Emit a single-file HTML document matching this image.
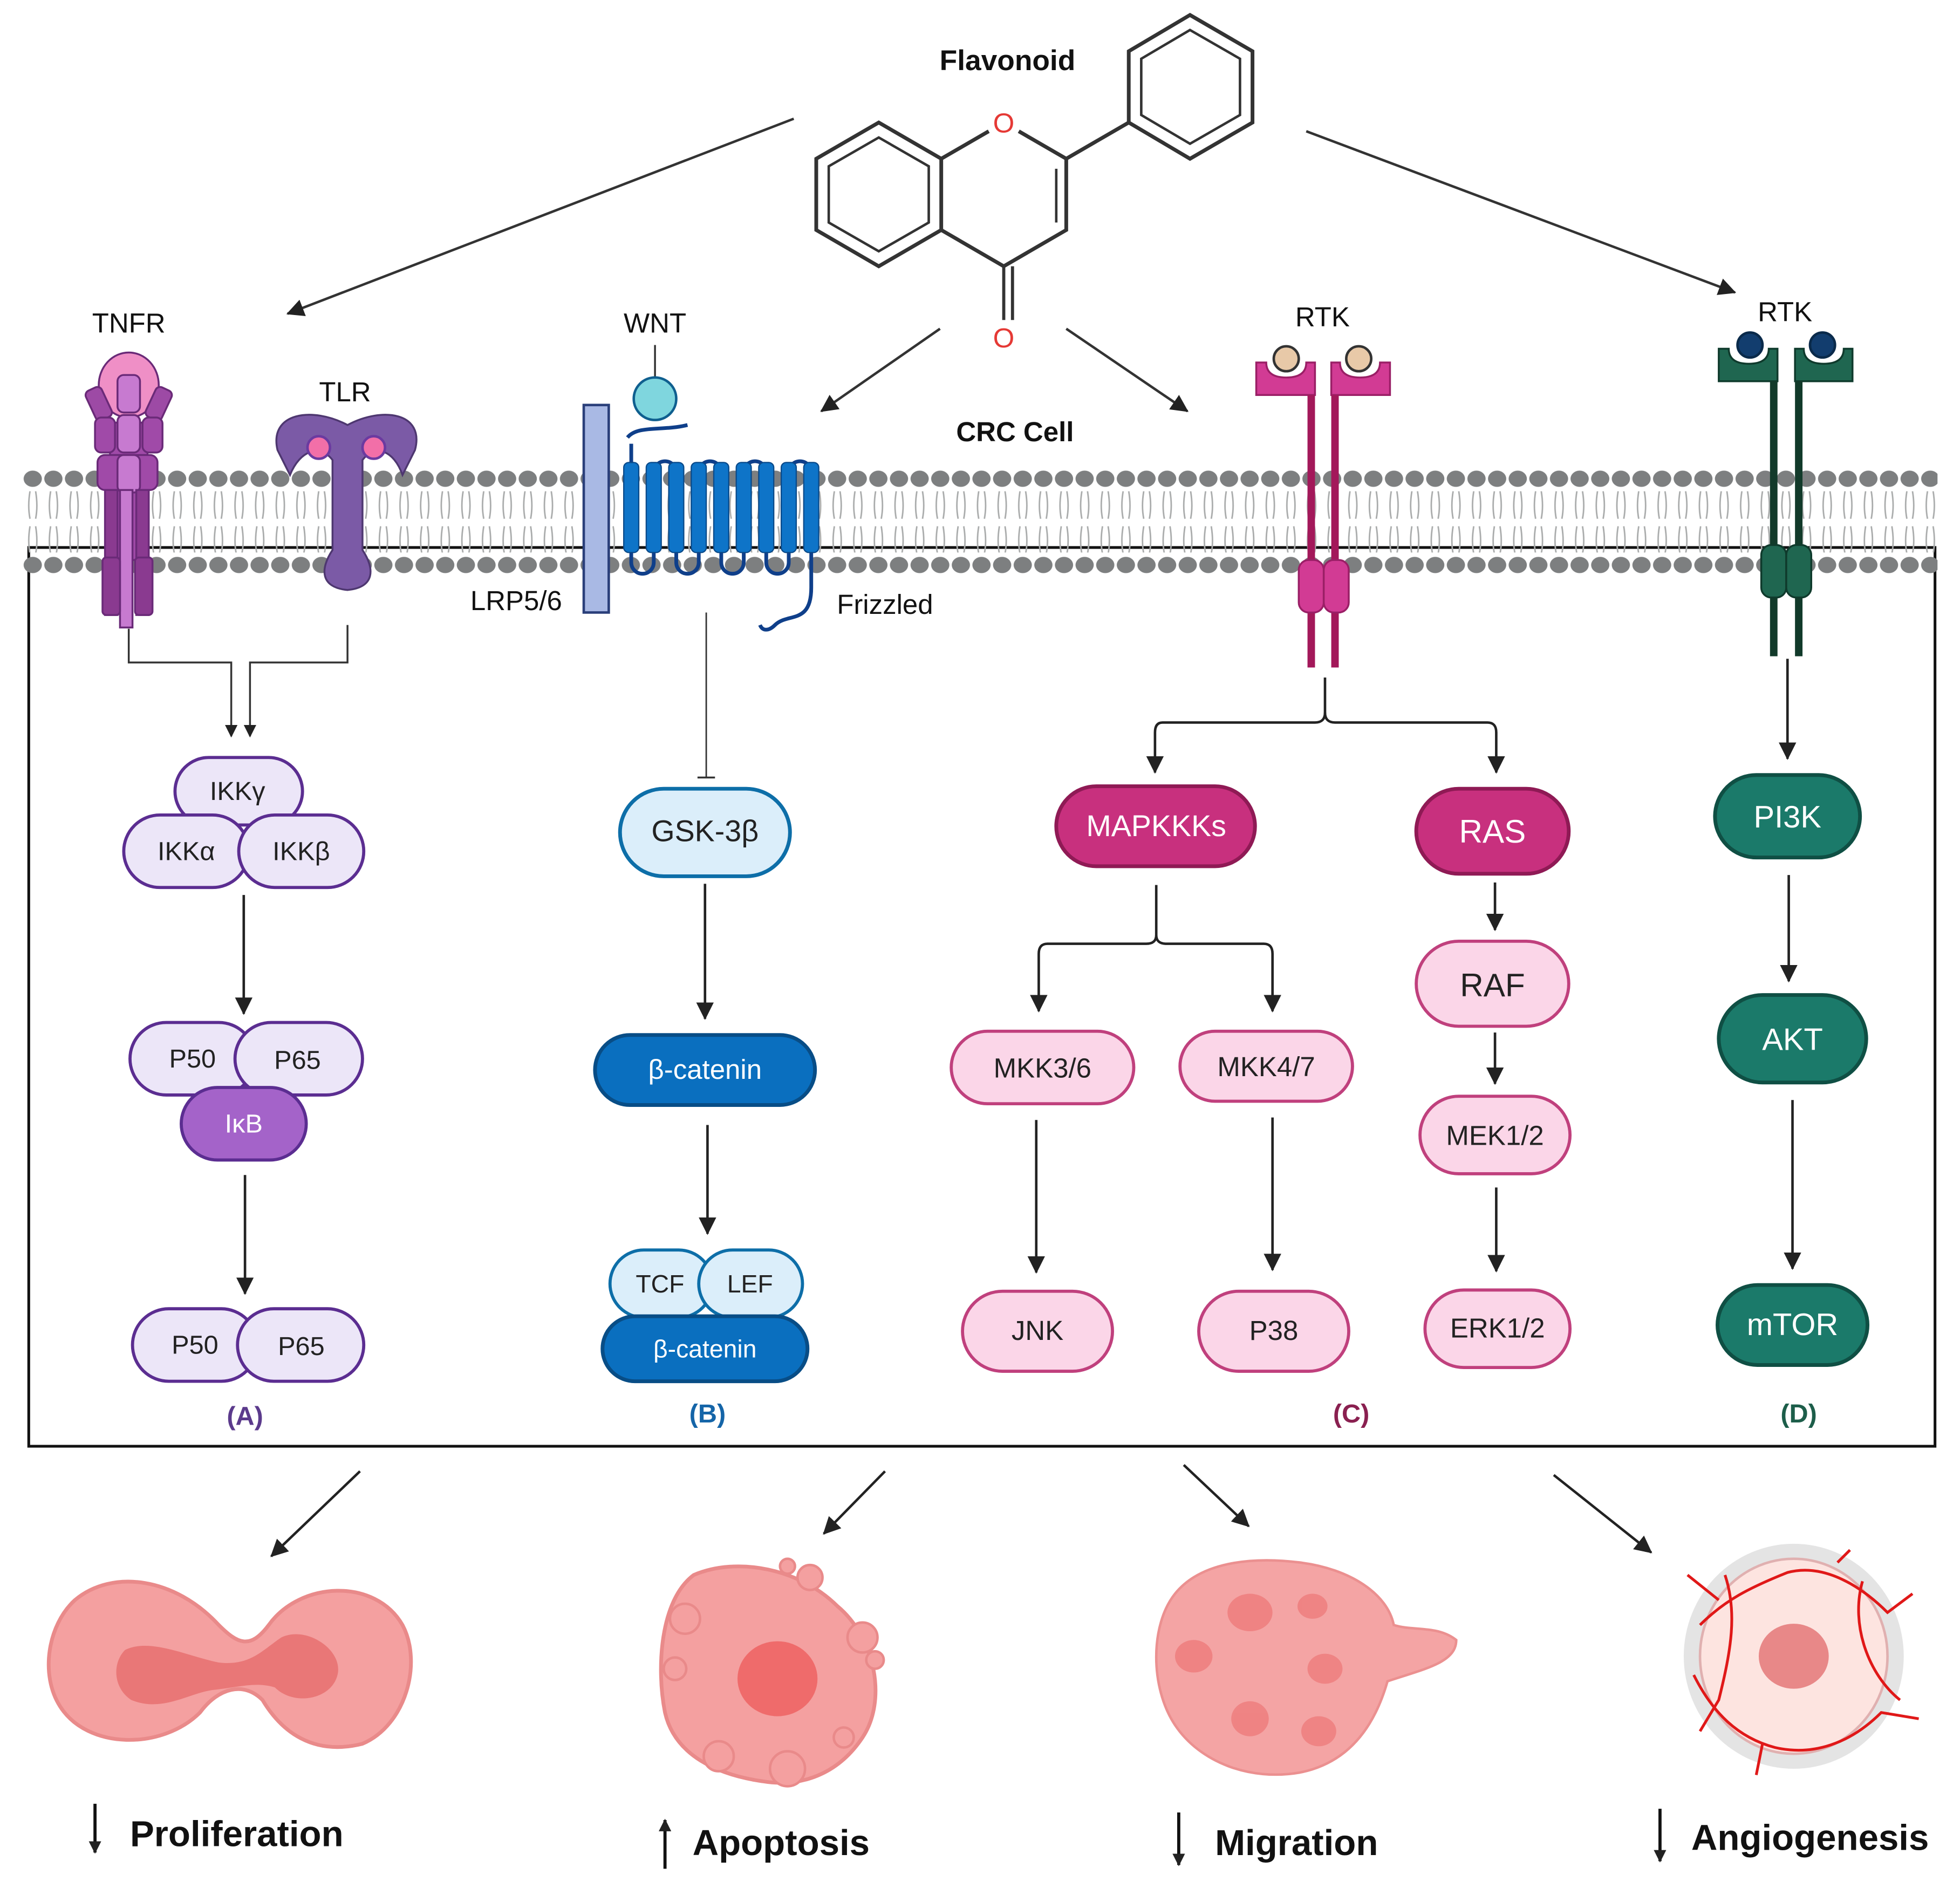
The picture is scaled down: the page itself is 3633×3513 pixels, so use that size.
<!DOCTYPE html>
<html><head><meta charset="utf-8"><style>
html,body{margin:0;padding:0;background:#fff}
svg{display:block}
text{font-family:"Liberation Sans",Arial,sans-serif}
</style></head><body>
<svg width="3633" height="3513" viewBox="0 0 1568 1516" preserveAspectRatio="none" xmlns="http://www.w3.org/2000/svg">
<defs>
<marker id="ar" markerWidth="10" markerHeight="10" refX="9" refY="5" orient="auto" markerUnits="userSpaceOnUse"><path d="M0,0 L10,5 L0,10 z" fill="#222"/></marker>
<marker id="arL" markerWidth="14" markerHeight="14" refX="13" refY="7" orient="auto" markerUnits="userSpaceOnUse"><path d="M0,0 L14,7 L0,14 z" fill="#222"/></marker>
<pattern id="heads1" x="18" y="373" width="16.5" height="20" patternUnits="userSpaceOnUse"><ellipse cx="8.2" cy="10" rx="7.3" ry="6.5" fill="#7d7f80"/></pattern>
<pattern id="heads2" x="18" y="442" width="16.5" height="20" patternUnits="userSpaceOnUse"><ellipse cx="8.2" cy="10" rx="7.3" ry="6.5" fill="#7d7f80"/></pattern>
<pattern id="tails" x="18" y="393" width="16.5" height="50" patternUnits="userSpaceOnUse"><path d="M6,0 q-2,12 0,22 M10.5,0 q2,12 0,22 M6,28 q-2,12 0,22 M10.5,28 q2,12 0,22" stroke="#a9abab" stroke-width="1.2" fill="none"/></pattern>
</defs>

<rect x="23" y="438" width="1525" height="719" fill="none" stroke="#111" stroke-width="2.2"/>

<rect x="18" y="373" width="1532" height="20" fill="url(#heads1)"/>
<rect x="18" y="393" width="1532" height="49" fill="url(#tails)"/>
<rect x="18" y="442" width="1532" height="20" fill="url(#heads2)"/>

<text x="806" y="56" font-size="23" font-weight="bold" text-anchor="middle" fill="#111">Flavonoid</text>
<g stroke="#333" stroke-width="3" fill="none">
<polygon points="703,98 753,127 753,184 703,213 653,184 653,127"/>
<polygon points="703,110 743,133 743,178 703,201 663,178 663,133" stroke-width="2"/>
<path d="M753,127 L791,105 M815,105 L853,127 L853,184 L803,213 L753,184"/>
<path d="M845,135 L845,178" stroke-width="2"/>
<path d="M803,213 L803,256 M810,213 L810,256" stroke-width="2.5"/>
<path d="M853,127 L903,98"/>
<polygon points="952,12 1002,41 1002,98 952,127 903,98 903,41"/>
<polygon points="952,24 992,47 992,92 952,115 913,92 913,47" stroke-width="2"/>
</g>
<text x="803" y="106" font-size="22" text-anchor="middle" fill="#e53935">O</text>
<text x="803" y="278" font-size="22" text-anchor="middle" fill="#e53935">O</text>

<g stroke="#333" stroke-width="2" fill="none">
<line x1="635" y1="95" x2="230" y2="251" marker-end="url(#arL)"/>
<line x1="1045" y1="105" x2="1388" y2="234" marker-end="url(#arL)"/>
<line x1="752" y1="263" x2="657" y2="329" marker-end="url(#arL)"/>
<line x1="853" y1="263" x2="950" y2="329" marker-end="url(#arL)"/>
</g>
<text x="812" y="353" font-size="22" font-weight="bold" text-anchor="middle" fill="#111">CRC Cell</text>

<text x="103" y="266" font-size="22" text-anchor="middle" fill="#111">TNFR</text>
<text x="276" y="321" font-size="22" text-anchor="middle" fill="#111">TLR</text>
<g stroke="#6a2a78" stroke-width="1.5">
<ellipse cx="103" cy="308" rx="24" ry="26" fill="#ef8fc6"/>
<rect x="88" y="338" width="30" height="110" rx="6" fill="#a04aa8"/>
<rect x="72" y="310" width="14" height="26" rx="4" fill="#9d4aa5" transform="rotate(-25 79 323)"/>
<rect x="120" y="310" width="14" height="26" rx="4" fill="#9d4aa5" transform="rotate(25 127 323)"/>
<rect x="76" y="334" width="16" height="28" rx="5" fill="#a04aa8"/>
<rect x="114" y="334" width="16" height="28" rx="5" fill="#a04aa8"/>
<rect x="78" y="364" width="48" height="28" rx="6" fill="#a04aa8"/>
<rect x="94" y="300" width="18" height="30" rx="5" fill="#c77ad0"/>
<rect x="94" y="332" width="18" height="30" rx="5" fill="#c77ad0"/>
<rect x="94" y="364" width="18" height="30" rx="5" fill="#c77ad0"/>
<rect x="84" y="392" width="10" height="100" fill="#8a3a90"/>
<rect x="109" y="392" width="10" height="100" fill="#8a3a90"/>
<rect x="96" y="392" width="10" height="110" fill="#c77ad0"/>
<rect x="82" y="446" width="14" height="46" rx="3" fill="#8a3a90"/>
<rect x="108" y="446" width="14" height="46" rx="3" fill="#8a3a90"/>
</g>
<g stroke="#4e3770" stroke-width="1.5" fill="#7b5aa6">
<path d="M222,360 C215,330 250,325 278,340 C306,325 340,330 332,360 L322,380 C315,360 300,355 290,368 L290,440 C300,455 300,470 278,472 C256,470 256,455 266,440 L266,368 C256,355 240,360 232,380 Z"/>
</g>
<circle cx="255" cy="358" r="9" fill="#f26fa8" stroke="#6b3aa0" stroke-width="2"/>
<circle cx="299" cy="358" r="9" fill="#f26fa8" stroke="#6b3aa0" stroke-width="2"/>

<g stroke="#333" stroke-width="1.5" fill="none">
<path d="M103,503 L103,530 L185,530 L185,589" marker-end="url(#ar)"/>
<path d="M278,500 L278,530 L200,530 L200,589" marker-end="url(#ar)"/>
</g>

<g stroke="#5b2d91" stroke-width="2.5" fill="#ece6f8">
<rect x="140" y="606" width="102" height="54" rx="27"/>
<rect x="99" y="652" width="100" height="58" rx="29"/>
<rect x="191" y="652" width="100" height="58" rx="29"/>
</g>
<g font-size="21" text-anchor="middle" fill="#222">
<text x="190" y="640">IKKγ</text><text x="149" y="688">IKKα</text><text x="241" y="688">IKKβ</text>
</g>
<line x1="195" y1="716" x2="195" y2="811" stroke="#222" stroke-width="2" marker-end="url(#arL)"/>
<g stroke="#5b2d91" stroke-width="2.5">
<rect x="104" y="818" width="100" height="58" rx="29" fill="#ece6f8"/>
<rect x="188" y="818" width="102" height="58" rx="29" fill="#ece6f8"/>
<rect x="145" y="870" width="100" height="58" rx="29" fill="#a463c9"/>
</g>
<g font-size="21" text-anchor="middle" fill="#222">
<text x="154" y="854">P50</text><text x="238" y="855">P65</text><text x="195" y="906" fill="#fff">IκB</text>
</g>
<line x1="196" y1="940" x2="196" y2="1035" stroke="#222" stroke-width="2" marker-end="url(#arL)"/>
<g stroke="#5b2d91" stroke-width="2.5" fill="#ece6f8">
<rect x="106" y="1047" width="100" height="58" rx="29"/>
<rect x="190" y="1047" width="101" height="58" rx="29"/>
</g>
<g font-size="21" text-anchor="middle" fill="#222"><text x="156" y="1083">P50</text><text x="241" y="1084">P65</text></g>
<text x="196" y="1140" font-size="21" font-weight="bold" text-anchor="middle" fill="#5b3a8c">(A)</text>

<text x="524" y="266" font-size="22" text-anchor="middle" fill="#111">WNT</text>
<line x1="524" y1="276" x2="524" y2="302" stroke="#333" stroke-width="1.5"/>
<circle cx="524" cy="319" r="17" fill="#7fd6de" stroke="#0f5f8f" stroke-width="2"/>
<rect x="467" y="324" width="20" height="166" fill="#a9b9e4" stroke="#2a3f7a" stroke-width="2"/>
<text x="413" y="488" font-size="22" text-anchor="middle" fill="#111">LRP5/6</text>
<g fill="none" stroke="#0f3f8a" stroke-width="3">
<path d="M502,350 C510,340 530,345 550,340"/>
<path d="M505,355 L505,450 A9,9 0 0 0 523,450 L523,378 A9,9 0 0 1 541,378 L541,450 A9,9 0 0 0 559,450 L559,378 A9,9 0 0 1 577,378 L577,450 A9,9 0 0 0 595,450 L595,378 A9,9 0 0 1 613,378 L613,450 A9,9 0 0 0 631,450 L631,378 A9,9 0 0 1 649,378 L649,470 C649,500 630,490 620,500 C615,505 610,505 608,500"/>
</g>
<g fill="#0e74c8" stroke="#0a4a8a" stroke-width="1">
<rect x="499" y="370" width="12" height="72" rx="4"/><rect x="517" y="370" width="12" height="72" rx="4"/>
<rect x="535" y="370" width="12" height="72" rx="4"/><rect x="553" y="370" width="12" height="72" rx="4"/>
<rect x="571" y="370" width="12" height="72" rx="4"/><rect x="589" y="370" width="12" height="72" rx="4"/>
<rect x="607" y="370" width="12" height="72" rx="4"/><rect x="625" y="370" width="12" height="72" rx="4"/>
<rect x="643" y="370" width="12" height="72" rx="4"/>
</g>
<text x="708" y="491" font-size="22" text-anchor="middle" fill="#111">Frizzled</text>
<line x1="565" y1="490" x2="565" y2="622" stroke="#333" stroke-width="1.2"/>
<line x1="558" y1="622" x2="572" y2="622" stroke="#333" stroke-width="1.5"/>
<rect x="496" y="631" width="136" height="70" rx="35" fill="#dbeefa" stroke="#0d6ea8" stroke-width="3"/>
<text x="564" y="673" font-size="24" text-anchor="middle" fill="#222">GSK-3β</text>
<line x1="564" y1="707" x2="564" y2="815" stroke="#222" stroke-width="2" marker-end="url(#arL)"/>
<rect x="476" y="828" width="176" height="56" rx="28" fill="#0a6fbf" stroke="#084d86" stroke-width="3"/>
<text x="564" y="863" font-size="22" text-anchor="middle" fill="#fff">β-catenin</text>
<line x1="566" y1="900" x2="566" y2="987" stroke="#222" stroke-width="2" marker-end="url(#arL)"/>
<g stroke="#0d6ea8" stroke-width="2.5" fill="#dbeefa">
<rect x="488" y="1000" width="82" height="54" rx="27"/>
<rect x="559" y="1000" width="83" height="54" rx="27"/>
</g>
<rect x="482" y="1053" width="164" height="52" rx="26" fill="#0a6fbf" stroke="#084d86" stroke-width="3"/>
<g font-size="20" text-anchor="middle"><text x="528" y="1034" fill="#222">TCF</text><text x="600" y="1034" fill="#222">LEF</text><text x="564" y="1086" fill="#fff">β-catenin</text></g>
<text x="566" y="1138" font-size="21" font-weight="bold" text-anchor="middle" fill="#1565a8">(B)</text>

<text x="1058" y="261" font-size="22" text-anchor="middle" fill="#111">RTK</text>
<g>
<circle cx="1029" cy="287" r="10" fill="#e8c9a8" stroke="#333" stroke-width="2"/>
<circle cx="1087" cy="287" r="10" fill="#e8c9a8" stroke="#333" stroke-width="2"/>
<path d="M1005,290 L1013,290 Q1013,302 1029,302 Q1045,302 1045,290 L1052,290 L1052,316 L1005,316 Z" fill="#d23b94" stroke="#9a1f66" stroke-width="1.5"/>
<path d="M1065,290 L1072,290 Q1072,302 1088,302 Q1104,302 1104,290 L1112,290 L1112,316 L1065,316 Z" fill="#d23b94" stroke="#9a1f66" stroke-width="1.5"/>
<rect x="1046" y="316" width="6" height="218" fill="#a3185a"/>
<rect x="1065" y="316" width="6" height="218" fill="#a3185a"/>
<rect x="1039" y="448" width="20" height="42" rx="8" fill="#d23b94" stroke="#9a1f66" stroke-width="1.5"/>
<rect x="1059" y="448" width="20" height="42" rx="8" fill="#d23b94" stroke="#9a1f66" stroke-width="1.5"/>
</g>
<g stroke="#222" stroke-width="2" fill="none">
<path d="M1060,542 L1060,570 Q1060,578 1052,578 L930,578 Q924,578 924,586 L924,618" marker-end="url(#arL)"/>
<path d="M1060,570 Q1060,578 1068,578 L1190,578 Q1197,578 1197,586 L1197,618" marker-end="url(#arL)"/>
</g>
<rect x="845" y="629" width="159" height="64" rx="32" fill="#c8307e" stroke="#8f1a55" stroke-width="3"/>
<text x="925" y="669" font-size="24" text-anchor="middle" fill="#fff">MAPKKKs</text>
<rect x="1133" y="631" width="122" height="68" rx="34" fill="#c8307e" stroke="#8f1a55" stroke-width="3"/>
<text x="1194" y="674" font-size="26" text-anchor="middle" fill="#fff">RAS</text>
<g stroke="#222" stroke-width="2" fill="none">
<path d="M925,708 L925,748 Q925,755 917,755 L838,755 Q831,755 831,763 L831,809" marker-end="url(#arL)"/>
<path d="M925,748 Q925,755 933,755 L1011,755 Q1018,755 1018,763 L1018,809" marker-end="url(#arL)"/>
<line x1="829" y1="896" x2="829" y2="1018" marker-end="url(#arL)"/>
<line x1="1018" y1="894" x2="1018" y2="1016" marker-end="url(#arL)"/>
<line x1="1196" y1="706" x2="1196" y2="744" marker-end="url(#arL)"/>
<line x1="1196" y1="826" x2="1196" y2="867" marker-end="url(#arL)"/>
<line x1="1197" y1="950" x2="1197" y2="1017" marker-end="url(#arL)"/>
</g>
<g stroke="#c0407d" stroke-width="2.5" fill="#fbd6e8">
<rect x="761" y="825" width="146" height="58" rx="29"/>
<rect x="944" y="825" width="138" height="56" rx="28"/>
<rect x="770" y="1033" width="120" height="64" rx="32"/>
<rect x="959" y="1033" width="120" height="64" rx="32"/>
<rect x="1133" y="753" width="122" height="68" rx="34"/>
<rect x="1136" y="877" width="120" height="62" rx="31"/>
<rect x="1140" y="1032" width="116" height="62" rx="31"/>
</g>
<g font-size="22" text-anchor="middle" fill="#222">
<text x="834" y="862">MKK3/6</text><text x="1013" y="861">MKK4/7</text>
<text x="830" y="1072">JNK</text><text x="1019" y="1072">P38</text>
<text x="1194" y="797" font-size="26">RAF</text><text x="1196" y="916">MEK1/2</text><text x="1198" y="1070">ERK1/2</text>
</g>
<text x="1081" y="1138" font-size="21" font-weight="bold" text-anchor="middle" fill="#8a2050">(C)</text>

<text x="1428" y="257" font-size="22" text-anchor="middle" fill="#111">RTK</text>
<circle cx="1400" cy="276" r="10" fill="#123d6e" stroke="#0a2a4a" stroke-width="2"/>
<circle cx="1458" cy="276" r="10" fill="#123d6e" stroke="#0a2a4a" stroke-width="2"/>
<path d="M1375,279 L1383,279 Q1383,291 1399,291 Q1415,291 1415,279 L1422,279 L1422,305 L1375,305 Z" fill="#1f6650" stroke="#0f3a2c" stroke-width="1.5"/>
<path d="M1436,279 L1443,279 Q1443,291 1459,291 Q1475,291 1475,279 L1482,279 L1482,305 L1436,305 Z" fill="#1f6650" stroke="#0f3a2c" stroke-width="1.5"/>
<rect x="1416" y="305" width="6" height="220" fill="#123a2a"/>
<rect x="1436" y="305" width="6" height="220" fill="#123a2a"/>
<rect x="1409" y="436" width="20" height="42" rx="8" fill="#1f6650" stroke="#0f3a2c" stroke-width="1.5"/>
<rect x="1429" y="436" width="20" height="42" rx="8" fill="#1f6650" stroke="#0f3a2c" stroke-width="1.5"/>
<g stroke="#222" stroke-width="2">
<line x1="1430" y1="527" x2="1430" y2="607" marker-end="url(#arL)"/>
<line x1="1431" y1="700" x2="1431" y2="785" marker-end="url(#arL)"/>
<line x1="1434" y1="880" x2="1434" y2="1015" marker-end="url(#arL)"/>
</g>
<g stroke="#0f4f44" stroke-width="3" fill="#1b7a6a">
<rect x="1372" y="620" width="116" height="66" rx="33"/>
<rect x="1375" y="796" width="118" height="70" rx="35"/>
<rect x="1374" y="1028" width="120" height="64" rx="32"/>
</g>
<g font-size="25" text-anchor="middle" fill="#fff">
<text x="1430" y="662">PI3K</text><text x="1434" y="840">AKT</text><text x="1434" y="1068">mTOR</text>
</g>
<text x="1439" y="1138" font-size="21" font-weight="bold" text-anchor="middle" fill="#1d5e4a">(D)</text>

<g stroke="#222" stroke-width="2">
<line x1="288" y1="1177" x2="217" y2="1245" marker-end="url(#arL)"/>
<line x1="708" y1="1177" x2="659" y2="1227" marker-end="url(#arL)"/>
<line x1="947" y1="1172" x2="999" y2="1221" marker-end="url(#arL)"/>
<line x1="1243" y1="1180" x2="1321" y2="1242" marker-end="url(#arL)"/>
</g>

<path d="M60,1280 C90,1255 140,1262 175,1300 C190,1315 200,1320 215,1300 C240,1265 300,1262 322,1300 C338,1330 325,1380 290,1395 C250,1405 225,1385 210,1360 C195,1345 175,1350 160,1370 C130,1400 70,1400 48,1365 C32,1340 38,1300 60,1280 Z" fill="#f4a0a0" stroke="#e98a8a" stroke-width="3"/>
<path d="M100,1320 C120,1310 150,1325 175,1330 C200,1333 210,1320 225,1310 C245,1300 275,1320 270,1340 C265,1360 235,1365 220,1350 C205,1345 190,1350 170,1352 C150,1355 130,1370 105,1360 C90,1350 90,1330 100,1320 Z" fill="#e97777"/>
<path d="M555,1260 C590,1245 640,1255 670,1285 C700,1310 710,1360 690,1390 C670,1420 640,1430 610,1425 C575,1420 540,1405 532,1370 C525,1335 528,1280 555,1260 Z" fill="#f4a0a0" stroke="#e98a8a" stroke-width="3"/>
<g fill="#f4a0a0" stroke="#e98a8a" stroke-width="2">
<circle cx="548" cy="1295" r="12"/><circle cx="648" cy="1262" r="10"/><circle cx="630" cy="1253" r="6"/>
<circle cx="690" cy="1310" r="12"/><circle cx="700" cy="1328" r="7"/><circle cx="540" cy="1335" r="9"/>
<circle cx="575" cy="1405" r="12"/><circle cx="630" cy="1415" r="14"/><circle cx="675" cy="1390" r="8"/>
</g>
<ellipse cx="622" cy="1343" rx="32" ry="30" fill="#ef6b6b"/>
<path d="M940,1275 C960,1250 1000,1245 1040,1250 C1080,1255 1110,1275 1115,1300 C1130,1305 1150,1300 1165,1312 C1165,1330 1140,1335 1110,1345 C1100,1380 1080,1410 1040,1418 C1000,1425 960,1410 940,1380 C920,1350 920,1300 940,1275 Z" fill="#f4a4a4" stroke="#eb9090" stroke-width="2"/>
<g fill="#ee7c7c" opacity="0.8">
<ellipse cx="1000" cy="1290" rx="18" ry="15"/><ellipse cx="955" cy="1325" rx="15" ry="13"/>
<ellipse cx="1060" cy="1335" rx="14" ry="12"/><ellipse cx="1000" cy="1375" rx="15" ry="14"/>
<ellipse cx="1055" cy="1385" rx="14" ry="12"/><ellipse cx="1050" cy="1285" rx="12" ry="10"/>
</g>
<ellipse cx="1435" cy="1325" rx="88" ry="90" fill="#d8d8d8" opacity="0.7"/>
<ellipse cx="1435" cy="1325" rx="75" ry="78" fill="#fde4e0" stroke="#e0b0b0" stroke-width="2"/>
<ellipse cx="1435" cy="1325" rx="28" ry="26" fill="#e88888"/>
<g stroke="#e01818" stroke-width="2.2" fill="none">
<path d="M1360,1300 C1380,1280 1400,1270 1430,1258 C1460,1250 1490,1270 1510,1290 L1530,1275"/>
<path d="M1355,1340 C1370,1370 1390,1390 1420,1398 C1450,1405 1480,1395 1505,1370 L1535,1375"/>
<path d="M1380,1260 C1390,1290 1385,1320 1375,1360 L1360,1385"/>
<path d="M1490,1265 C1480,1300 1495,1340 1520,1360"/>
<path d="M1410,1395 L1405,1420 M1470,1250 L1480,1240 M1350,1260 L1375,1280"/>
</g>

<g font-size="29" font-weight="bold" fill="#111">
<text x="104" y="1477">Proliferation</text>
<text x="554" y="1484">Apoptosis</text>
<text x="972" y="1484">Migration</text>
<text x="1353" y="1480">Angiogenesis</text>
</g>
<g stroke="#111" stroke-width="2.5">
<line x1="76" y1="1443" x2="76" y2="1482" marker-end="url(#ar)"/>
<line x1="532" y1="1495" x2="532" y2="1456" marker-end="url(#ar)"/>
<line x1="943" y1="1450" x2="943" y2="1492" marker-end="url(#ar)"/>
<line x1="1328" y1="1447" x2="1328" y2="1489" marker-end="url(#ar)"/>
</g>
</svg>
</body></html>
